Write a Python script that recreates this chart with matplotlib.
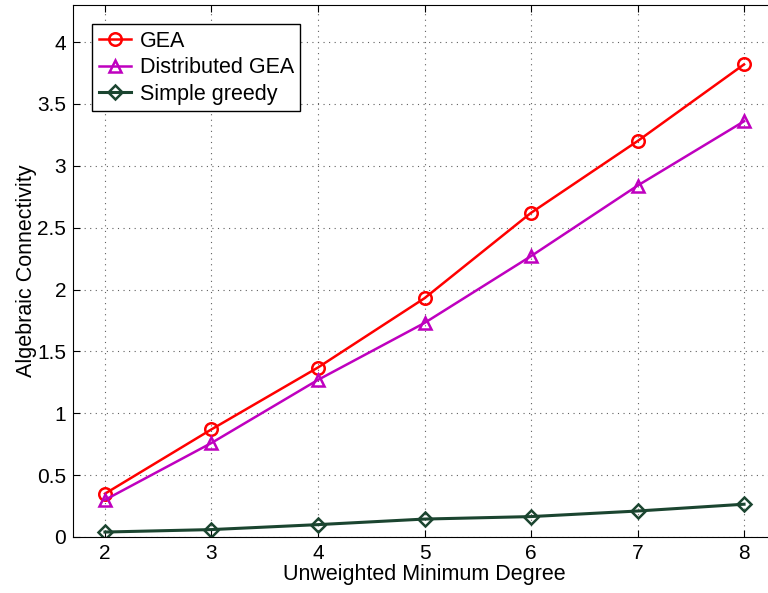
import matplotlib
matplotlib.use("Agg")
import matplotlib.pyplot as plt

degree = [2, 3, 4, 5, 6, 7, 8]
gea = [0.35, 0.87, 1.37, 1.93, 2.62, 3.20, 3.82]
dist_gea = [0.30, 0.76, 1.27, 1.73, 2.27, 2.84, 3.36]
simple_greedy = [0.04, 0.06, 0.10, 0.145, 0.165, 0.21, 0.265]

yticks = [0, 0.5, 1, 1.5, 2, 2.5, 3, 3.5, 4]
ytick_labels = ["0", "0.5", "1", "1.5", "2", "2.5", "3", "3.5", "4"]

plt.rcParams['font.family'] = ['Liberation Sans', 'DejaVu Sans']

fig = plt.figure(figsize=(7.68, 5.93), dpi=100)
# axes runs past the right edge like the cropped original
ax = fig.add_axes([73 / 768, 1 - 537 / 593, (776 - 73) / 768, (537 - 5) / 593])

ax.plot(degree, gea, color="#ff0000", lw=1.8, marker="o", ms=9, mfc="none",
        mew=1.8, label="GEA")
ax.plot(degree, dist_gea, color="#bf00bf", lw=1.8, marker="^", ms=9, mfc="none",
        mew=1.8, label="Distributed GEA")
ax.plot(degree, simple_greedy, color="#1b4530", lw=2.2, marker="D", ms=7, mfc="none",
        mew=1.8, label="Simple greedy")

ax.set_xlim(1.7, 8.3)
ax.set_ylim(0, 4.3)
ax.set_xticks(degree)
ax.set_yticks(yticks)
ax.set_yticklabels(ytick_labels)
ax.tick_params(direction="in", labelsize=15, length=5, top=True, right=True, pad=5)
ax.grid(True, linestyle=(0, (1, 4)), color="#606060", lw=0.8)

ax.set_xlabel("Unweighted Minimum Degree", fontsize=15.5, labelpad=1)
ax.set_ylabel("Algebraic Connectivity", fontsize=15.5, labelpad=0)

leg = ax.legend(loc="upper left", fontsize=15.5, fancybox=False, framealpha=1,
                edgecolor="black", borderaxespad=0.9, handlelength=1.5,
                handletextpad=0.4, labelspacing=0.25, borderpad=0.3)
leg.get_frame().set_linewidth(1.0)

fig.savefig("out.png", dpi=100)
